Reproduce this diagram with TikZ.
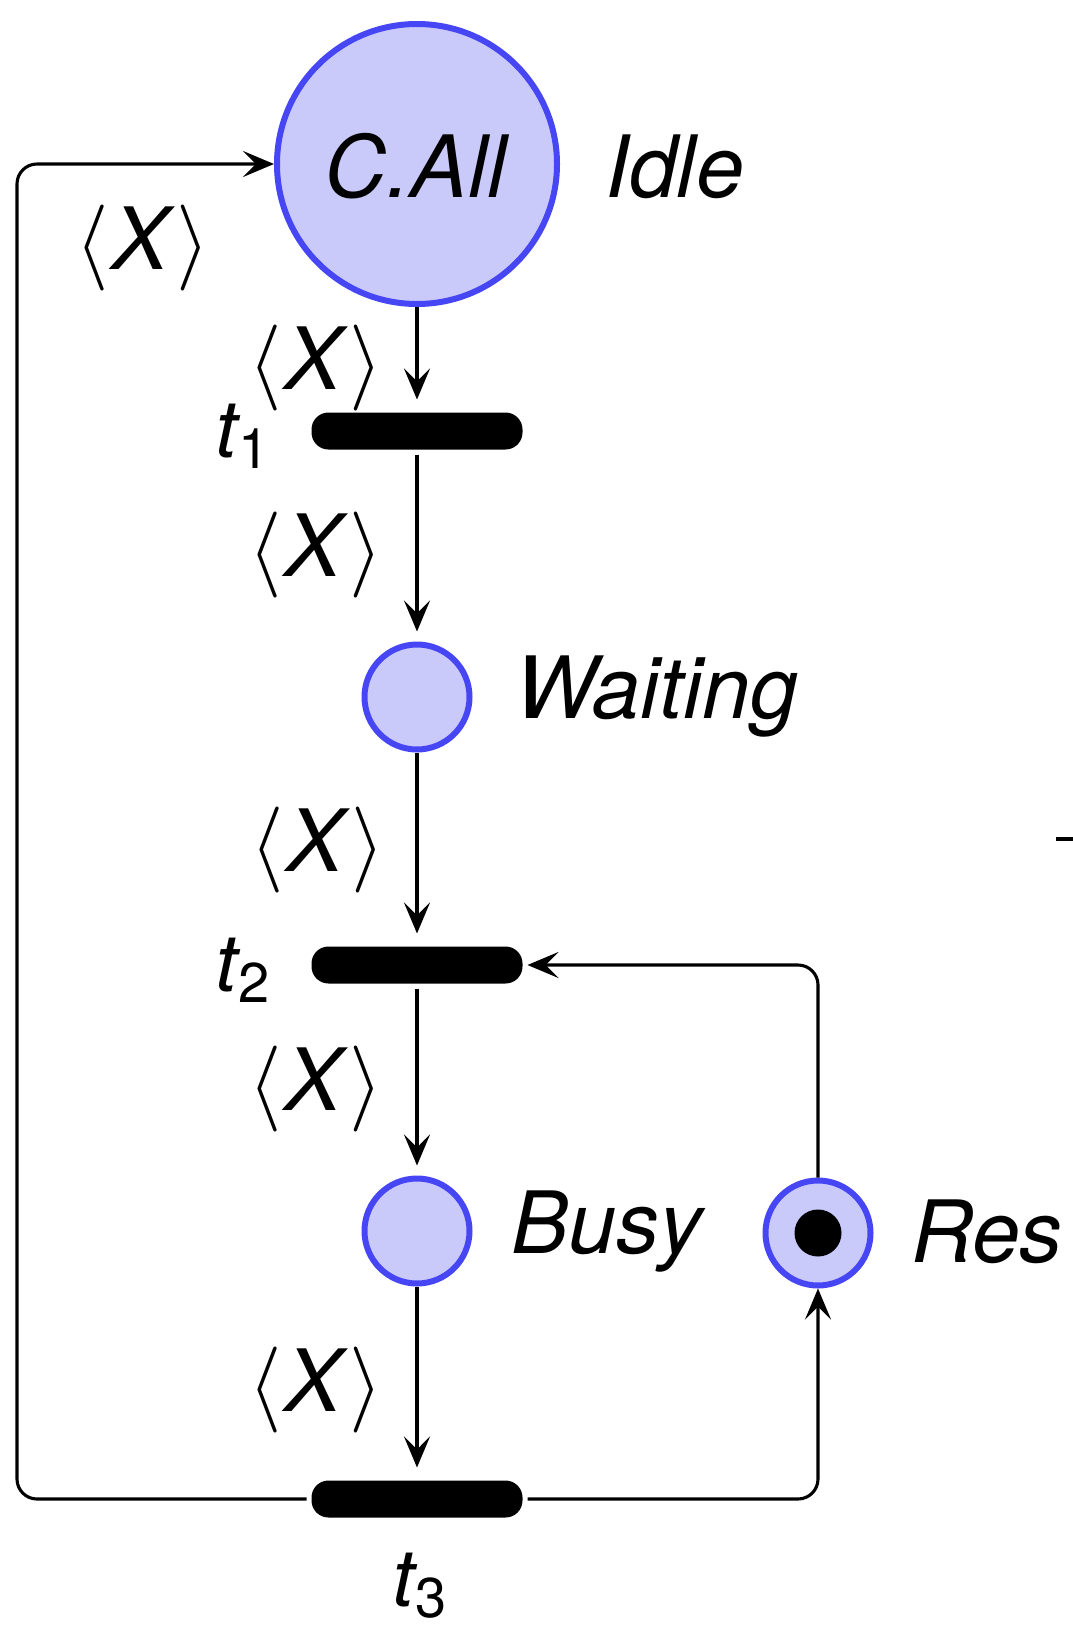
\RequirePackage{fix-cm}
\documentclass[tikz,border=0pt]{standalone}
\usepackage{fontspec}
\setmainfont{TeX Gyre Heros}
\usetikzlibrary{arrows.meta}
\definecolor{placefill}{RGB}{202,202,250}
\definecolor{placedraw}{RGB}{70,70,245}
\newcommand{\AX}{$\langle$\kern2pt\textit{X}\kern2pt$\rangle$}
\newcommand{\tlab}[1]{\textit{t}\kern-2pt\raisebox{-11pt}{\fontsize{56}{60}\selectfont #1}}
\begin{document}
\begin{tikzpicture}[x=1pt,y=-1pt,
  every node/.style={font=\fontsize{86}{90}\selectfont},
  place/.style={circle,draw=placedraw,fill=placefill,line width=6pt,inner sep=0pt},
  bar/.style={fill=black,rounded corners=17pt,minimum width=211pt,minimum height=37pt,inner sep=0pt,outer sep=5pt},
  arc/.style={line width=3.1pt,-{Stealth[length=31pt,width=26pt,inset=13pt]}},
  lab/.style={anchor=base west,inner sep=0pt},
  wlab/.style={anchor=base,inner sep=0pt},
  token/.style={circle,fill=black,minimum size=47pt,inner sep=0pt}]
\useasboundingbox (0,0) rectangle (1073,1627);
% places
\node[place,minimum size=280pt] (call) at (417,164) {};
\node[wlab] (calltxt) at (417,197) {\textit{C.All}};
\node[place,minimum size=105pt] (wait) at (417,697) {};
\node[place,minimum size=105pt] (busy) at (417,1231) {};
\node[place,minimum size=105pt] (res) at (818,1233) {};
\node[token] (tok) at (res.center) {};
% transitions
\node[bar] (t1) at (417,431) {};
\node[bar] (t2) at (417,965) {};
\node[bar] (t3) at (417,1499) {};
% labels
\node[lab] (lidle) at (605,197) {\textit{Idle}};
\node[lab] (lwait) at (515,718) {\textit{Waiting}};
\node[lab] (lbusy) at (511,1253) {\textit{Busy}};
\node[lab] (lres) at (911,1262) {\textit{Res}};
\node[lab,font=\fontsize{80}{84}\selectfont] (lt1) at (215,457) {\tlab{1}};
\node[lab,font=\fontsize{80}{84}\selectfont] (lt2) at (215,991) {\tlab{2}};
\node[lab,font=\fontsize{80}{84}\selectfont] (lt3) at (392,1606) {\tlab{3}};
% arc inscriptions
\node[wlab] (x0) at (143,269) {\AX};
\node[wlab] (x1) at (316,389) {\AX};
\node[wlab] (x2) at (316,576) {\AX};
\node[wlab] (x3) at (318,871) {\AX};
\node[wlab] (x4) at (316,1110) {\AX};
\node[wlab] (x5) at (316,1411) {\AX};
% arcs
\draw[arc,shorten >=8pt] (call) -- (t1);
\draw[arc,shorten >=10pt] (t1) -- (wait);
\draw[arc,shorten >=8pt] (wait) -- (t2);
\draw[arc,shorten >=10pt] (t2) -- (busy);
\draw[arc,shorten >=8pt] (busy) -- (t3);
\coordinate (leftx) at (17,800);
\draw[arc,rounded corners=20pt] (t3.west) -| (leftx) |- (call.west);
\draw[arc,rounded corners=20pt] (t3.east) -| (res.south);
\draw[arc,rounded corners=20pt] (res.north) |- (t2.east);
% fragment at the right edge
\coordinate (fragA) at (1056,839);
\coordinate (fragB) at (1073,839);
\draw[line width=3.5pt] (fragA) -- (fragB);
\end{tikzpicture}
\end{document}
